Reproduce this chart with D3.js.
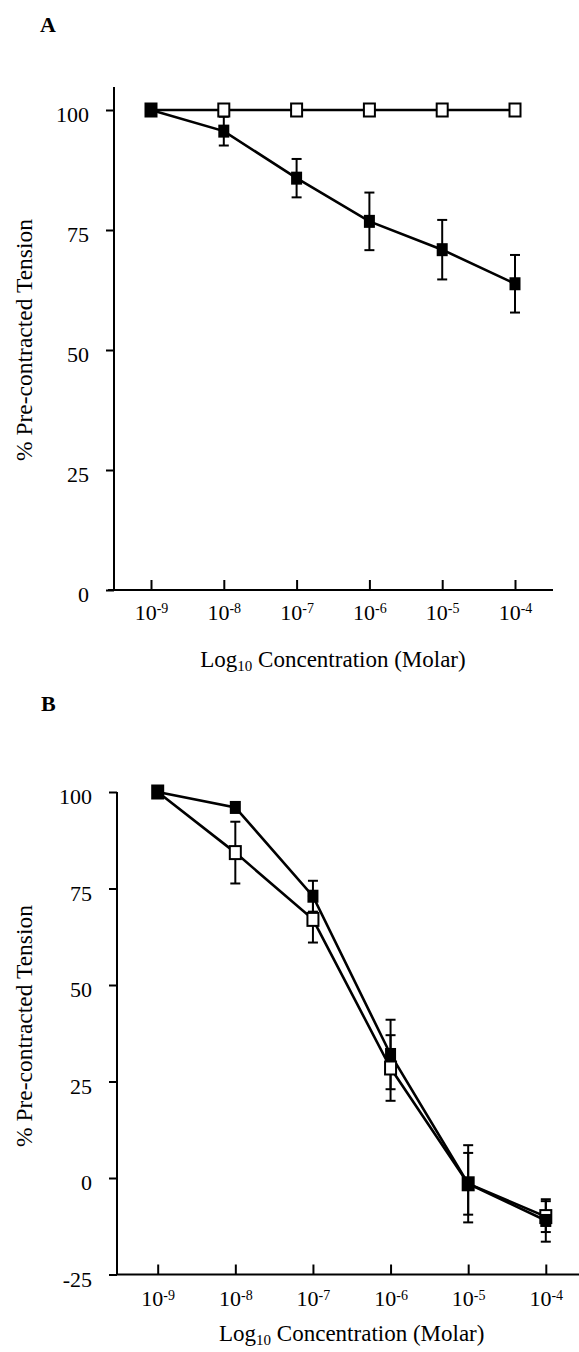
<!DOCTYPE html>
<meta charset="utf-8">
<style>
body { margin: 0; background: #fff; }
text { font-family: "Liberation Serif", "Times New Roman", serif; fill: #000; }
.axis .domain { display: none; }
.axis line { stroke: #000; stroke-width: 2; }
</style>
<svg width="579" height="1352"></svg>
<script src="https://d3js.org/d3.v7.min.js"></script>
<script>

// concentrations (log10 molar)
var logConc = [-9, -8, -7, -6, -5, -4];

// panel A
var aOpenMean = [100, 100, 100, 100, 100, 100];
var aOpenErr = [0, 0, 0, 0, 0, 0];
var aFilledMean = [100, 95.6, 85.8, 76.8, 70.9, 63.8];
var aFilledErr = [0, 3, 4, 6, 6.2, 6];
var aYTicks = [0, 25, 50, 75, 100];

// panel B
var bFilledMean = [100, 96, 73, 32, -1.5, -11];
var bFilledErr = [0, 0, 4, 9, 10, 5.5];
var bOpenMean = [100, 84.3, 67, 28.5, -1.5, -10];
var bOpenErr = [0, 8, 6, 8.5, 8, 4];
var bYTicks = [-25, 0, 25, 50, 75, 100];

var svg = d3.select("svg");

function panel(opt) {
  var x = d3.scaleLinear().domain([-9, -4]).range(opt.xRange),
      y = d3.scaleLinear().domain(opt.yDomain).range(opt.yRange);
  var g = svg.append("g");

  // panel letter
  g.append("text")
      .attr("x", opt.letterX)
      .attr("y", opt.letterY)
      .attr("font-size", 22)
      .attr("font-weight", "bold")
      .text(opt.letter);

  // y axis
  var yAx = g.append("g")
      .attr("class", "axis")
      .attr("transform", "translate(" + opt.yAxisX + ",0)")
      .call(d3.axisLeft(y).tickValues(opt.yTicks).tickSize(8).tickPadding(17)
        .tickFormat(function(d) { return d < 0 ? "-" + (-d) : d; }));
  yAx.selectAll("text").attr("font-size", 22).attr("dy", "0.53em");
  g.append("line")
      .attr("x1", opt.yAxisX).attr("x2", opt.yAxisX)
      .attr("y1", y(opt.yDomain[0])).attr("y2", y(opt.yTop))
      .attr("stroke", "#000").attr("stroke-width", 2);

  // x axis, ticks pointing up
  var xAx = g.append("g")
      .attr("class", "axis")
      .attr("transform", "translate(0," + y(opt.yDomain[0]) + ")")
      .call(d3.axisBottom(x).tickValues(logConc).tickSize(-10).tickPadding(opt.xPad));
  xAx.selectAll("text").attr("font-size", 22)
      .each(function(d) {
        var t = d3.select(this);
        t.text("10");
        t.append("tspan").attr("dy", "-0.45em").attr("font-size", 14).text(d);
      });
  g.append("line")
      .attr("x1", opt.xAxisLeft).attr("x2", opt.xAxisRight)
      .attr("y1", y(opt.yDomain[0])).attr("y2", y(opt.yDomain[0]))
      .attr("stroke", "#000").attr("stroke-width", 2);

  // axis titles
  var xt = g.append("text")
      .attr("x", (x(-9) + x(-4)) / 2)
      .attr("y", opt.xTitleY)
      .attr("text-anchor", "middle")
      .attr("font-size", 23);
  xt.append("tspan").text("Log");
  xt.append("tspan").attr("font-size", 15).attr("dy", 4).text("10");
  xt.append("tspan").attr("dy", -4).text(" Concentration (Molar)");

  g.append("text")
      .attr("transform", "translate(32," + opt.yTitleY + ") rotate(-90)")
      .attr("text-anchor", "middle")
      .attr("font-size", 23.5)
      .text("% Pre-contracted Tension");

  var line = d3.line()
      .x(function(d) { return x(d.c); })
      .y(function(d) { return y(d.m); });

  opt.series.forEach(function(s) {
    var pts = logConc.map(function(c, i) { return {c: c, m: s.mean[i], e: s.err[i]}; });
    s.pts = pts;
    g.append("path")
        .datum(pts)
        .attr("fill", "none")
        .attr("stroke", "#000")
        .attr("stroke-width", 2.6)
        .attr("d", line);
  });

  opt.series.forEach(function(s) {
    var eb = g.append("g").selectAll("g")
        .data(s.pts.filter(function(d) { return d.e > 0; }))
        .enter().append("g")
        .attr("stroke", "#000").attr("stroke-width", 2);
    eb.append("line")
        .attr("x1", function(d) { return x(d.c); })
        .attr("x2", function(d) { return x(d.c); })
        .attr("y1", function(d) { return y(d.m - d.e); })
        .attr("y2", function(d) { return y(d.m + d.e); });
    [-1, 1].forEach(function(sg) {
      eb.append("line")
          .attr("x1", function(d) { return x(d.c) - 5; })
          .attr("x2", function(d) { return x(d.c) + 5; })
          .attr("y1", function(d) { return y(d.m + sg * d.e); })
          .attr("y2", function(d) { return y(d.m + sg * d.e); });
    });
  });

  opt.series.forEach(function(s) {
    g.append("g").selectAll("rect")
        .data(s.pts)
        .enter().append("rect")
        .attr("x", function(d) { return x(d.c) - 5.5; })
        .attr("y", function(d) { return y(d.m) - 6.5; })
        .attr("width", 11)
        .attr("height", 13)
        .attr("fill", s.filled ? "#000" : "#fff")
        .attr("stroke", "#000")
        .attr("stroke-width", s.filled ? 0 : 2);
  });
}

panel({
  letter: "A", letterX: 40, letterY: 32,
  xRange: [151, 515], yDomain: [0, 100], yRange: [590, 110], yTop: 104.8,
  yTicks: aYTicks, yAxisX: 114, xAxisLeft: 108, xAxisRight: 553,
  xPad: 14, xTitleY: 667, yTitleY: 340,
  series: [
    {mean: aOpenMean, err: aOpenErr, filled: false},
    {mean: aFilledMean, err: aFilledErr, filled: true}
  ]
});

panel({
  letter: "B", letterX: 41, letterY: 711,
  xRange: [157.7, 545.8], yDomain: [-25, 100], yRange: [1274.5, 792], yTop: 100,
  yTicks: bYTicks, yAxisX: 117, xAxisLeft: 117, xAxisRight: 579,
  xPad: 16, xTitleY: 1341, yTitleY: 1026,
  series: [
    {mean: bOpenMean, err: bOpenErr, filled: false},
    {mean: bFilledMean, err: bFilledErr, filled: true}
  ]
});

</script>
